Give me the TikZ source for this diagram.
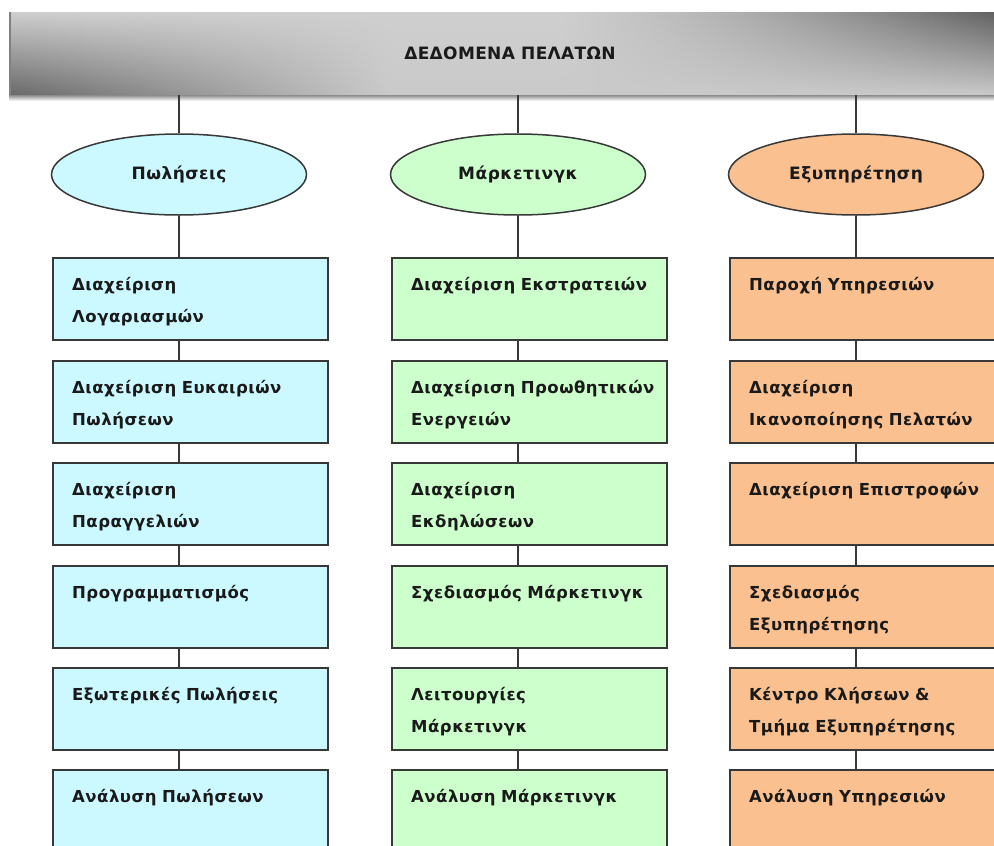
\documentclass[tikz,border=0pt]{standalone}
\usepackage{fontspec}
\setmainfont{DejaVu Sans}
\newfontfamily\labelfont{DejaVu Sans}[LetterSpace=3]
\newfontfamily\titlefont{DejaVu Sans}[LetterSpace=2]
\usetikzlibrary{shapes.geometric}

\definecolor{salesfill}{HTML}{CCF8FF}
\definecolor{mktfill}{HTML}{CCFFCC}
\definecolor{svcfill}{HTML}{FAC08F}
\definecolor{edge}{HTML}{383838}
\definecolor{ink}{HTML}{1A1A1A}

\tikzset{
  panel/.style={draw=edge, line width=1.5pt, rectangle, minimum width=275pt,
    minimum height=82pt, inner sep=0pt, anchor=north west},
  topic/.style={draw=edge, line width=1.5pt, ellipse, minimum width=255pt,
    minimum height=81pt, inner sep=0pt, text=ink,
    font=\labelfont\bfseries\fontsize{17}{20}\selectfont},
  caption/.style={anchor=base west, align=left, inner sep=0pt, text=ink,
    text width=260pt, font=\labelfont\bfseries\fontsize{16.5}{32}\selectfont},
  link/.style={draw=edge, line width=1.3pt},
}

\begin{document}
\begin{tikzpicture}[x=1pt,y=-1pt]
\useasboundingbox (0,0) rectangle (994,846);
\clip (0,0) rectangle (994,846);

% title bar: thin vertical strips whose top/bottom shades drift across the width
\foreach \i in {0,...,199} {
  \pgfmathsetmacro\t{(\i+0.5)/200}
  \pgfmathsetmacro\u{max(0,(\t-0.55)/0.45)}
  \pgfmathsetmacro\v{max(0,(0.38-\t)/0.38)}
  \pgfmathsetmacro\tp{100*(1-(0.81-0.45*\u*(0.5+0.5*\u)))}
  \pgfmathsetmacro\bp{100*(1-(0.79-0.38*\v))}
  \pgfmathsetmacro\xa{9+\i*5}
  \fill[top color=black!\tp, bottom color=black!\bp] (\xa,12) rectangle (\xa+5.6,95);
}
\fill[top color=black!45, bottom color=white] (9,95) rectangle (1009,101);
\draw[black!50, line width=1.5pt] (9.75,12) -- (9.75,95);

\node[rectangle, minimum width=1002pt, minimum height=83pt, inner sep=0pt,
  text=ink, font=\titlefont\bfseries\fontsize{17}{20}\selectfont]
  (head) at (510,53.5) {ΔΕΔΟΜΕΝΑ ΠΕΛΑΤΩΝ};

% category ellipses and their boxes
\foreach \c/\lx/\fc/\title in {1/52/salesfill/Πωλήσεις,
    2/391/mktfill/Μάρκετινγκ, 3/729/svcfill/Εξυπηρέτηση} {
  \node[topic, fill=\fc] (e\c) at (\lx+127,174.5) {\title};
  \foreach \r/\ty in {1/257,2/360,3/462,4/565,5/667,6/769} {
    \node[panel, fill=\fc] (b\c\r) at (\lx,\ty) {};
  }
}

% captions inside the boxes
\foreach \c/\r/\txt in {
    1/1/{Διαχείριση\\Λογαριασμών},
    1/2/{Διαχείριση Ευκαιριών\\Πωλήσεων},
    1/3/{Διαχείριση\\Παραγγελιών},
    1/4/{Προγραμματισμός},
    1/5/{Εξωτερικές Πωλήσεις},
    1/6/{Ανάλυση Πωλήσεων},
    2/1/{Διαχείριση Εκστρατειών},
    2/2/{Διαχείριση Προωθητικών\\Ενεργειών},
    2/3/{Διαχείριση\\Εκδηλώσεων},
    2/4/{Σχεδιασμός Μάρκετινγκ},
    2/5/{Λειτουργίες\\Μάρκετινγκ},
    2/6/{Ανάλυση Μάρκετινγκ},
    3/1/{Παροχή Υπηρεσιών},
    3/2/{Διαχείριση\\Ικανοποίησης Πελατών},
    3/3/{Διαχείριση Επιστροφών},
    3/4/{Σχεδιασμός\\Εξυπηρέτησης},
    3/5/{Κέντρο Κλήσεων \&\\Τμήμα Εξυπηρέτησης},
    3/6/{Ανάλυση Υπηρεσιών}} {
  \node[caption] (t\c\r) at ([xshift=20pt,yshift=-33pt]b\c\r.north west) {\txt};
}

% connectors
\foreach \c in {1,2,3} {
  \draw[link] (e\c.north) -- (e\c.north |- head.south);
  \draw[link] (e\c.south) -- (e\c.south |- b\c1.north);
  \foreach \r [evaluate=\r as \n using int(\r+1)] in {1,...,5} {
    \draw[link] (b\c\r.south -| e\c) -- (b\c\n.north -| e\c);
  }
}
\end{tikzpicture}
\end{document}
